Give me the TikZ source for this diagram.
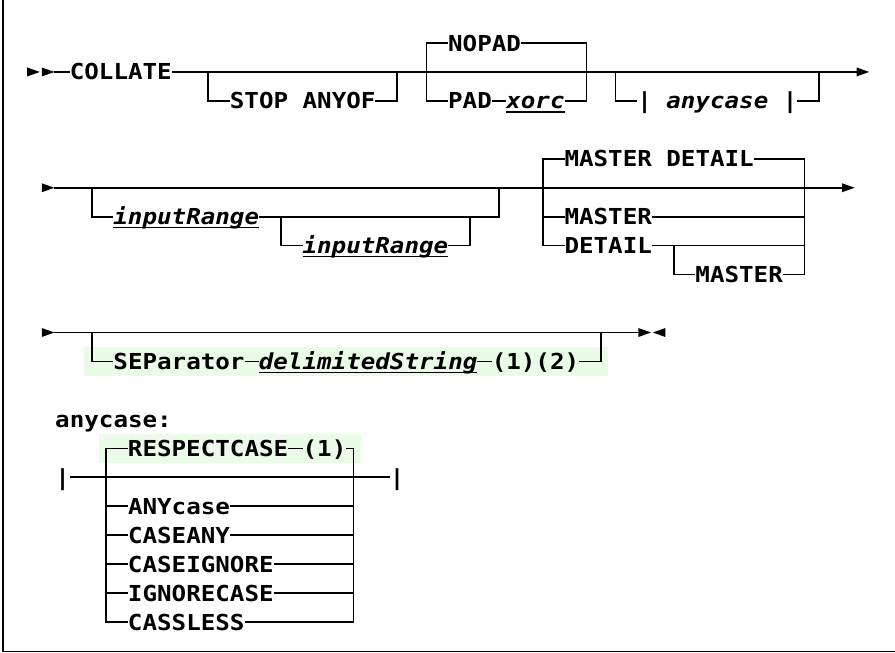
\documentclass[tikz,border=0pt]{standalone}
\usepackage{fontspec}
\newfontfamily\rrfont{DejaVu Sans Mono}[FakeStretch=1.1, UprightFont=*, BoldFont=* Bold, ItalicFont=* Oblique, BoldItalicFont=* Bold Oblique]
\definecolor{hl}{HTML}{EAFBE8}
\pgfmathdeclarefunction{cx}{1}{\pgfmathparse{33.5+14.55*(#1)}}
\pgfmathdeclarefunction{ry}{1}{\pgfmathparse{-(43+28.95*(#1))}}
\tikzset{
 rr/.style={line width=1.6pt, line join=miter},
 cell/.style={inner sep=0pt, outer sep=0pt, text height=21pt, text depth=5pt,
   font=\rrfont\fontsize{22pt}{26pt}\selectfont\bfseries},
 var/.style={font=\rrfont\fontsize{22pt}{26pt}\selectfont\bfseries\itshape},
 ul/.style={line width=1.3pt},
 frame/.style={line width=1.5pt},
}
\newcommand\T[6][]{%
 \pgfmathsetmacro\rrw{(#4-#3+1)*14.55}%
 \pgfmathsetmacro\rrx{33.5+14.55*(#3+#4)/2}%
 \pgfmathsetmacro\rry{-(43+28.95*(#5))}%
 \node[cell,minimum width=\rrw pt,#1] (#2) at (\rrx pt,\rry pt) {#6};}
\newcommand\U[1]{\draw[ul] ([yshift=-11pt]#1.west) -- ([yshift=-11pt]#1.east);}
\newcommand\C[3]{\coordinate (#1) at ({cx(#2)},{ry(#3)});}
\newcommand\RT[2]{\fill ({cx(#1)-6.3},{ry(#2)+4.5}) -- ({cx(#1)+6.3},{ry(#2)}) -- ({cx(#1)-6.3},{ry(#2)-4.5}) -- cycle;}
\newcommand\LT[2]{\fill ({cx(#1)+6.3},{ry(#2)+4.5}) -- ({cx(#1)-6.3},{ry(#2)}) -- ({cx(#1)+6.3},{ry(#2)-4.5}) -- cycle;}
\begin{document}
\begin{tikzpicture}[x=1pt,y=1pt]
\useasboundingbox (0,0) rectangle (895,-653);
\draw[frame] (2.8,0) -- (2.8,-651.5) -- (895,-651.5);

% ---------- section 1
\RT{0}{1}\RT{1}{1}
\coordinate (s1) at ({cx(1)+6.3},{ry(1)});
\coordinate (e1) at ({cx(57)-6.3},{ry(1)});
\RT{57}{1}
\T{collate}{3}{9}{1}{COLLATE}
\T{stop}{14}{17}{2}{STOP}
\T{anyof}{19}{23}{2}{ANYOF}
\T{nopad}{29}{33}{0}{NOPAD}
\T{pad}{29}{31}{2}{PAD}
\T[var]{xorc}{33}{36}{2}{xorc}\U{xorc}
\T{barA}{42}{42}{2}{|}
\T[var]{anycaseref}{44}{50}{2}{anycase}
\T{barB}{52}{52}{2}{|}
\C{j12}{12}{1}\C{j25}{25}{1}\C{j27}{27}{2}\C{j38}{38}{0}\C{j40}{40}{1}\C{j54}{54}{1}
\draw[rr] (s1) -- (collate.west);
\draw[rr] (collate.east) -- (e1);
\draw[rr] (j12) |- (stop.west);
\draw[rr] (anyof.east) -| (j25);
\draw[rr] (nopad.west) -| (j27) -- (pad.west);
\draw[rr] (pad.east) -- (xorc.west);
\draw[rr] (xorc.east) -| (j38) -- (nopad.east);
\draw[rr] (j40) |- (barA.west);
\draw[rr] (barB.east) -| (j54);

% ---------- section 2
\RT{1}{5}
\coordinate (s2) at ({cx(1)+6.3},{ry(5)});
\coordinate (e2) at ({cx(56)-6.3},{ry(5)});
\RT{56}{5}
\draw[rr] (s2) -- (e2);
\T[var]{ir1}{6}{15}{6}{inputRange}\U{ir1}
\T[var]{ir2}{19}{28}{7}{inputRange}\U{ir2}
\C{j4}{4}{5}\C{j32}{32}{5}\C{j17}{17}{6}\C{j30}{30}{6}
\draw[rr] (j4) |- (ir1.west);
\draw[rr] (ir1.east) -| (j32);
\draw[rr] (j17) |- (ir2.west);
\draw[rr] (ir2.east) -| (j30);
\T{mast}{37}{42}{4}{MASTER}
\T{detl}{44}{49}{4}{DETAIL}
\T{master}{37}{42}{6}{MASTER}
\T{detail}{37}{42}{7}{DETAIL}
\T{mastertwo}{46}{51}{8}{MASTER}
\C{j35}{35}{7}\C{j35m}{35}{6}\C{j53}{53}{8}\C{j53m}{53}{6}\C{j53d}{53}{7}\C{j44}{44}{7}
\draw[rr] (mast.west) -| (j35) -- (detail.west);
\draw[rr] (j35m) -- (master.west);
\draw[rr] (detl.east) -| (j53) -- (mastertwo.east);
\draw[rr] (master.east) -- (j53m);
\draw[rr] (detail.east) -- (j53d);
\draw[rr] (j44) |- (mastertwo.west);

% ---------- section 3
\fill[hl] ({cx(4)-7.275},{ry(11)+14.5}) rectangle ({cx(39)+7.275},{ry(11)-14.5});
\RT{1}{10}
\coordinate (s3) at ({cx(1)+6.3},{ry(10)});
\coordinate (e3) at ({cx(42)-6.3},{ry(10)});
\RT{42}{10}\LT{43}{10}
\draw[rr] (s3) -- (e3);
\T{sep}{6}{14}{11}{SEParator}
\T[var]{ds}{16}{30}{11}{delimitedString}\U{ds}
\T{notes}{32}{37}{11}{(1)(2)}
\C{j4c}{4}{10}\C{j39}{39}{10}
\draw[rr] (j4c) |- (sep.west);
\draw[rr] (sep.east) -- (ds.west);
\draw[rr] (ds.east) -- (notes.west);
\draw[rr] (notes.east) -| (j39);

% ---------- anycase fragment
\T{lbl}{2}{9}{13}{anycase:}
\fill[hl] ({cx(5)-7.275},{ry(14)+14.5}) rectangle ({cx(22)+7.275},{ry(14)-14.5});
\T{barL}{2}{2}{15}{|}
\T{barR}{25}{25}{15}{|}
\draw[rr] (barL.east) -- (barR.west);
\T{resp}{7}{17}{14}{RESPECTCASE}
\T{nt}{19}{21}{14}{(1)}
\T{anyc}{7}{13}{16}{ANYcase}
\T{casey}{7}{13}{17}{CASEANY}
\T{casei}{7}{16}{18}{CASEIGNORE}
\T{ignc}{7}{16}{19}{IGNORECASE}
\T{cassl}{7}{14}{20}{CASSLESS}
\C{La}{5}{16}\C{Lb}{5}{17}\C{Lc}{5}{18}\C{Ld}{5}{19}\C{Le}{5}{20}
\C{Ra}{22}{16}\C{Rb}{22}{17}\C{Rc}{22}{18}\C{Rd}{22}{19}\C{Re}{22}{20}
\draw[rr] (resp.west) -| (Le) -- (cassl.west);
\draw[rr] (resp.east) -- (nt.west);
\draw[rr] (nt.east) -| (Re) -- (cassl.east);
\draw[rr] (La) -- (anyc.west);
\draw[rr] (anyc.east) -- (Ra);
\draw[rr] (Lb) -- (casey.west);
\draw[rr] (casey.east) -- (Rb);
\draw[rr] (Lc) -- (casei.west);
\draw[rr] (casei.east) -- (Rc);
\draw[rr] (Ld) -- (ignc.west);
\draw[rr] (ignc.east) -- (Rd);
\end{tikzpicture}
\end{document}
